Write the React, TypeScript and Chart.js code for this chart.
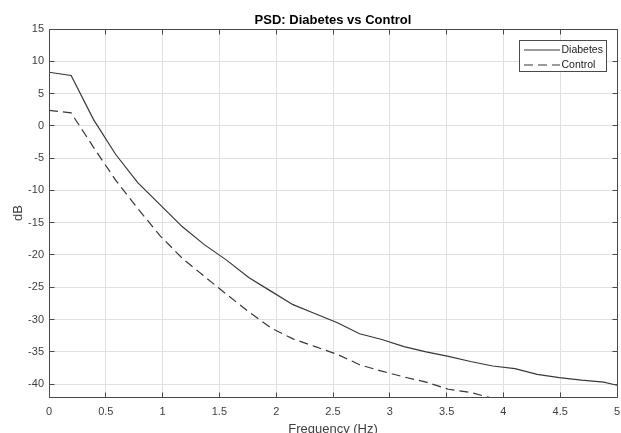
import React, { useEffect, useRef } from 'react';
import { Chart, registerables } from 'chart.js';

Chart.register(...registerables);

// Frequency bins (Hz)
const freqs = [
  0, 0.195, 0.391, 0.586, 0.781, 0.977, 1.172, 1.367, 1.563, 1.758, 1.953, 2.148, 2.344, 2.539,
  2.734, 2.93, 3.125, 3.32, 3.516, 3.711, 3.906, 4.102, 4.297, 4.492, 4.688, 4.883, 5.078,
];
// PSD (dB)
const diabetes = [
  8.3, 7.8, 1.0, -4.4, -8.8, -12.2, -15.6, -18.4, -20.8, -23.5, -25.6, -27.7, -29.1, -30.5,
  -32.2, -33.1, -34.2, -35.0, -35.7, -36.5, -37.2, -37.6, -38.5, -39.0, -39.4, -39.7, -40.5,
];
const control = [
  2.4, 2.0, -3.3, -8.4, -12.8, -17.0, -20.5, -23.3, -26.1, -28.8, -31.3, -33.0, -34.2, -35.4,
  -37.0, -38.0, -38.9, -39.7, -40.8, -41.3, -42.2, -42.8, -43.3, -43.8, -44.3, -44.8, -45.3,
];
const xTicks = [0, 0.5, 1, 1.5, 2, 2.5, 3, 3.5, 4, 4.5, 5];
const yTicks = [-40, -35, -30, -25, -20, -15, -10, -5, 0, 5, 10, 15];
const seriesNames = ['Diabetes', 'Control'];
const titleText = 'PSD: Diabetes vs Control';
const xLabel = 'Frequency (Hz)';
const yLabel = 'dB';

const LINE = '#383838';
const AXIS = '#4a4a4a';
const TEXT = '#404040';
const GRID = '#e0e0e0';
const FONT = '"Liberation Sans", Arial, Helvetica, sans-serif';
const DASH = [9, 5];

const align = (p: number) => Math.round(p - 0.5) + 0.5;

const matlabPlugin = {
  id: 'matlabAxes',
  afterDatasetsDraw(chart: any) {
    const { ctx, chartArea: a, scales } = chart;
    const xs = scales.x;
    const ys = scales.y;
    const L = align(a.left);
    const R = align(a.right);
    const T = align(a.top);
    const B = align(a.bottom);
    ctx.save();
    ctx.strokeStyle = AXIS;
    ctx.lineWidth = 1;
    ctx.setLineDash([]);
    // box
    ctx.beginPath();
    ctx.rect(L, T, R - L, B - T);
    ctx.stroke();
    // inward ticks
    const tl = 5;
    ctx.beginPath();
    xTicks.forEach((v) => {
      const px = align(xs.getPixelForValue(v));
      ctx.moveTo(px, B);
      ctx.lineTo(px, B - tl);
      ctx.moveTo(px, T);
      ctx.lineTo(px, T + tl);
    });
    yTicks.forEach((v) => {
      const py = align(ys.getPixelForValue(v));
      ctx.moveTo(L, py);
      ctx.lineTo(L + tl, py);
      ctx.moveTo(R, py);
      ctx.lineTo(R - tl, py);
    });
    ctx.stroke();

    // title
    const cx = (a.left + a.right) / 2;
    ctx.fillStyle = '#000';
    ctx.font = `bold 13px ${FONT}`;
    ctx.textAlign = 'center';
    ctx.textBaseline = 'alphabetic';
    ctx.fillText(titleText, cx, 23.5);

    // x label
    ctx.fillStyle = TEXT;
    ctx.font = `13px ${FONT}`;
    ctx.fillText(xLabel, cx, 433);

    // y label
    ctx.save();
    ctx.translate(22, (a.top + a.bottom) / 2);
    ctx.rotate(-Math.PI / 2);
    ctx.fillText(yLabel, 0, 0);
    ctx.restore();

    // legend
    const lx = 519.5;
    const ly = 40.5;
    const lw = 87;
    const lh = 31;
    ctx.fillStyle = '#fff';
    ctx.fillRect(lx, ly, lw, lh);
    ctx.strokeStyle = AXIS;
    ctx.strokeRect(lx, ly, lw, lh);
    const rows = [50, 65];
    chart.data.datasets.forEach((ds: any, i: number) => {
      const y = rows[i];
      ctx.strokeStyle = LINE;
      ctx.lineWidth = 1.2;
      ctx.setLineDash(ds.borderDash || []);
      ctx.beginPath();
      ctx.moveTo(524, y);
      ctx.lineTo(560, y);
      ctx.stroke();
      ctx.setLineDash([]);
      ctx.fillStyle = '#222';
      ctx.font = `10.5px ${FONT}`;
      ctx.textAlign = 'left';
      ctx.textBaseline = 'middle';
      ctx.fillText(ds.label, 561.5, y + 0.5);
    });
    ctx.restore();
  },
};

export default function App() {
  const ref = useRef<HTMLCanvasElement>(null);
  useEffect(() => {
    const canvas = ref.current;
    if (!canvas) return;
    const chart = new Chart(canvas, {
      type: 'line',
      data: {
        datasets: [
          {
            label: seriesNames[0],
            data: freqs.map((f, i) => ({ x: f, y: diabetes[i] })),
            borderColor: LINE,
            borderWidth: 1.2,
            pointRadius: 0,
            fill: false,
            tension: 0,
          },
          {
            label: seriesNames[1],
            data: freqs.map((f, i) => ({ x: f, y: control[i] })),
            borderColor: LINE,
            borderWidth: 1.2,
            borderDash: DASH,
            pointRadius: 0,
            fill: false,
            tension: 0,
          },
        ],
      },
      options: {
        responsive: false,
        animation: false,
        devicePixelRatio: 1,
        layout: { padding: { top: 29, right: 4, left: 0, bottom: 0 } },
        plugins: {
          legend: { display: false },
          title: { display: false },
          tooltip: { enabled: false },
        },
        scales: {
          x: {
            type: 'linear',
            min: 0,
            max: 5,
            afterFit: (s: any) => {
              s.height = 36;
              s.paddingLeft = 0;
              s.paddingRight = 0;
            },
            afterBuildTicks: (s: any) => {
              s.ticks = xTicks.map((v) => ({ value: v }));
            },
            ticks: {
              padding: 8,
              color: TEXT,
              font: { family: FONT, size: 11 },
              maxRotation: 0,
              autoSkip: false,
              callback: (v: any) => String(v),
            },
            grid: { color: GRID, drawTicks: false },
            border: { display: false },
          },
          y: {
            type: 'linear',
            min: -42,
            max: 15,
            afterFit: (s: any) => {
              s.width = 49;
              s.paddingTop = 0;
              s.paddingBottom = 0;
            },
            afterBuildTicks: (s: any) => {
              s.ticks = yTicks.map((v) => ({ value: v }));
            },
            ticks: {
              padding: 5,
              color: TEXT,
              font: { family: FONT, size: 11 },
              autoSkip: false,
              callback: (v: any) => String(v),
            },
            grid: { color: GRID, drawTicks: false },
            border: { display: false },
          },
        },
      },
      plugins: [matlabPlugin],
    });
    return () => chart.destroy();
  }, []);
  return (
    <div style={{ position: 'absolute', left: 0, top: 0, width: 621, height: 433, background: '#fff' }}>
      <canvas ref={ref} width={621} height={433} style={{ display: 'block' }} />
    </div>
  );
}
